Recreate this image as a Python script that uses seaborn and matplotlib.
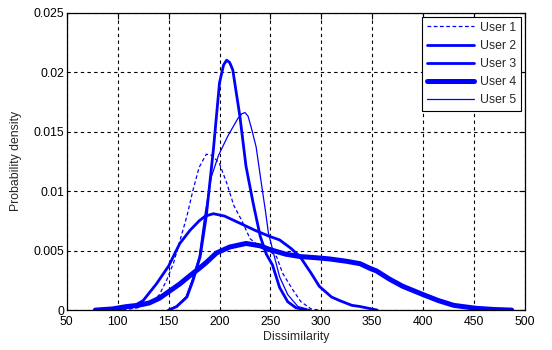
import matplotlib
matplotlib.use("Agg")
import matplotlib.pyplot as plt
import seaborn as sns
import numpy as np
import pandas as pd
from matplotlib.ticker import FuncFormatter

# ---- data ----
user1_x = [105, 120, 135, 141, 148, 155, 161, 168, 174, 180, 187, 193, 200, 207, 214,
           222, 230, 240, 250, 256, 262, 272, 280, 290, 298]
user1_y = [0.0000, 0.0002, 0.0008, 0.0013, 0.0025, 0.0040, 0.0058, 0.0079, 0.0101, 0.0120,
           0.0131, 0.0130, 0.0123, 0.0107, 0.0088, 0.0075, 0.0060, 0.0053, 0.0049, 0.0045,
           0.0031, 0.0017, 0.0007, 0.0001, 0.0000]

user2_x = [150, 158, 168, 174, 181, 187, 194, 200, 204, 207, 210, 213, 220, 226, 233, 240, 246,
           252, 259, 267, 275, 285]
user2_y = [0.0000, 0.0003, 0.0011, 0.0025, 0.0045, 0.0079, 0.0135, 0.0191, 0.0206, 0.0210,
           0.0208, 0.0202, 0.0163, 0.0121, 0.0090, 0.0062, 0.0047, 0.0038, 0.0019, 0.0007,
           0.0002, 0.0000]

user3_x = [80, 100, 115, 125, 138, 150, 161, 171, 180, 186, 194, 205, 220, 235, 249,
           259, 270, 279, 290, 298, 310, 318, 330, 338, 355]
user3_y = [0.0000, 0.0001, 0.0003, 0.0008, 0.0022, 0.0037, 0.0056, 0.0067, 0.0075, 0.0079,
           0.0081, 0.0079, 0.0073, 0.0067, 0.0062, 0.0059, 0.0052, 0.0045, 0.0031, 0.0020,
           0.0011, 0.0008, 0.0004, 0.0003, 0.0000]

user4_x = [78, 95, 109, 120, 131, 141, 151, 161, 171, 180, 187, 197, 210, 226, 240, 249,
           265, 279, 295, 308, 325, 338, 348, 354, 367, 380, 400, 415, 430, 452, 470, 487]
user4_y = [0.0000, 0.0001, 0.0003, 0.0004, 0.0006, 0.0010, 0.0016, 0.0022, 0.0029, 0.0035,
           0.0040, 0.0048, 0.0053, 0.0056, 0.0054, 0.0051, 0.0047, 0.0045, 0.0044, 0.0043,
           0.0041, 0.0039, 0.0035, 0.0033, 0.0026, 0.0020, 0.0013, 0.0008, 0.0004, 0.00015,
           0.00005, 0.0000]

user5_x = [149, 157, 167, 173, 180, 186, 192, 199, 208, 218, 222, 225, 228, 231, 236, 241, 245,
           248, 253, 259, 267, 277, 290]
user5_y = [0.0000, 0.0003, 0.0011, 0.0025, 0.0045, 0.0082, 0.0112, 0.0130, 0.0146, 0.0161,
           0.0165, 0.0166, 0.0163, 0.0154, 0.0137, 0.0107, 0.0084, 0.0065, 0.0048, 0.0028,
           0.0013, 0.0003, 0.0000]

labels = ["User 1", "User 2", "User 3", "User 4", "User 5"]
xs = [user1_x, user2_x, user3_x, user4_x, user5_x]
ys = [user1_y, user2_y, user3_y, user4_y, user5_y]

x_ticks = [50, 100, 150, 200, 250, 300, 350, 400, 450, 500]
y_ticks = [0, 0.005, 0.01, 0.015, 0.02, 0.025]

styles = {
    "User 1": dict(lw=0.9, ls=(0, (3, 2))),
    "User 2": dict(lw=2.0, ls="-"),
    "User 3": dict(lw=2.0, ls="-"),
    "User 4": dict(lw=3.6, ls="-"),
    "User 5": dict(lw=0.9, ls="-"),
}

sns.set_style("white")
plt.rcParams["font.family"] = ["Liberation Sans", "DejaVu Sans"]
FS = 8.8
plt.rcParams["font.size"] = FS

fig = plt.figure(figsize=(5.52, 3.5), dpi=100)
ax = fig.add_axes([0.121, 0.114, 0.830, 0.850])

for lab, x, y in zip(labels, xs, ys):
    df = pd.DataFrame({"Dissimilarity": x, "Probability density": y})
    st = styles[lab]
    sns.lineplot(data=df, x="Dissimilarity", y="Probability density", ax=ax,
                 color="#0000ff", linewidth=st["lw"], linestyle=st["ls"], label=lab,
                 sort=False, estimator=None)

ax.set_xlim(50, 500)
ax.set_ylim(0, 0.025)
ax.set_xticks(x_ticks)
ax.set_yticks(y_ticks)
ax.yaxis.set_major_formatter(FuncFormatter(lambda v, p: "%g" % v))
ax.grid(True, color="black", linestyle=(0, (3, 3)), linewidth=0.8)
ax.set_axisbelow(True)
for sp in ax.spines.values():
    sp.set_color("black")
    sp.set_linewidth(0.9)
ax.tick_params(direction="in", length=4, width=0.8, top=True, right=True,
               labelsize=FS, colors="black")
ax.tick_params(axis="x", pad=4.5)
ax.tick_params(axis="y", pad=2)
for lbl in ax.get_yticklabels():
    lbl.set_verticalalignment("center_baseline")
ax.set_xlabel("Dissimilarity", fontsize=FS, labelpad=2)
ax.set_ylabel("Probability density", fontsize=FS, labelpad=8)

leg = ax.legend(loc="upper right", frameon=True, fancybox=False, edgecolor="black",
                framealpha=1, fontsize=FS, handlelength=3.8, borderaxespad=0.35,
                labelspacing=0.5, handletextpad=0.5, borderpad=0.4)
leg.get_frame().set_linewidth(0.8)

fig.savefig("out.png", dpi=100)
